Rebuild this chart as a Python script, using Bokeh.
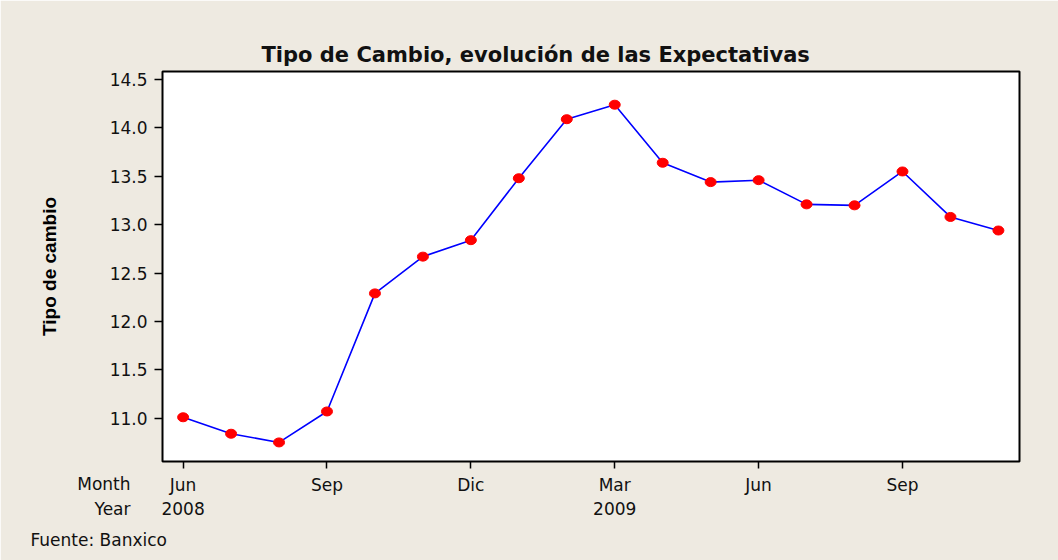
from bokeh.plotting import figure
from bokeh.models import FixedTicker, LinearAxis, Label, Range1d, PrintfTickFormatter, Title
from bokeh.embed import file_html
from bokeh.resources import INLINE

# ---- data ----
months = ["Jun", "Jul", "Ago", "Sep", "Oct", "Nov", "Dic", "Ene", "Feb",
          "Mar", "Abr", "May", "Jun", "Jul", "Ago", "Sep", "Oct", "Nov"]
years = [2008] * 7 + [2009] * 11
values = [11.01, 10.84, 10.75, 11.07, 12.29, 12.67, 12.84, 13.48, 14.09,
          14.24, 13.64, 13.44, 13.46, 13.21, 13.20, 13.55, 13.08, 12.94]
y_ticks = [11.0, 11.5, 12.0, 12.5, 13.0, 13.5, 14.0, 14.5]
year_tick_idx = [0, 9]
title_text = "Tipo de Cambio, evolución de las Expectativas"
y_label = "Tipo de cambio"
source_text = "Fuente: Banxico"

x = list(range(len(values)))
tick_idx = [i for i in x if i % 3 == 0]
month_labels = {i: months[i] for i in tick_idx}
year_labels = {i: str(years[i]) for i in year_tick_idx}

BG = "#EEEAE1"
FONT = "DejaVu Sans"
W, H = 1058, 560

p = figure(width=W, height=H, output_backend="svg", toolbar_location=None, title=None,
           x_range=Range1d(-0.43, 17.44), y_range=Range1d(10.553, 14.583),
           min_border_left=162, min_border_right=39, min_border_top=71,
           min_border_bottom=99, x_axis_location=None, y_axis_location="left")

p.background_fill_color = "white"
p.border_fill_color = BG
p.outline_line_color = "black"
p.outline_line_width = 2
p.grid.visible = False

# title (closest to the frame in the top panel)
p.add_layout(Title(text=title_text, text_font=FONT, text_font_size="21px",
                   text_font_style="bold", align="left", offset=99, standoff=9,
                   text_color="#111111"), "above")

# y axis
ya = p.yaxis[0]
ya.ticker = FixedTicker(ticks=y_ticks)
ya.formatter = PrintfTickFormatter(format="%.1f")
ya.axis_line_color = None
ya.major_tick_out = 8
ya.major_tick_in = 0
ya.major_tick_line_width = 1.5
ya.minor_tick_line_color = None
ya.major_label_text_font = FONT
ya.major_label_text_font_size = "17px"
ya.major_label_text_color = "#111111"
ya.major_label_standoff = 7
ya.axis_label = y_label
ya.axis_label_text_font = "Liberation Sans"
ya.axis_label_text_font_style = "bold"
ya.axis_label_text_font_size = "19px"
ya.axis_label_text_color = "black"
ya.axis_label_standoff = 47

# x axis: months
xa = LinearAxis(ticker=FixedTicker(ticks=tick_idx), major_label_overrides=month_labels)
xa.axis_line_color = None
xa.major_tick_out = 7
xa.major_tick_in = 0
xa.major_tick_line_width = 1.5
xa.minor_tick_line_color = None
xa.major_label_text_font = FONT
xa.major_label_text_font_size = "17px"
xa.major_label_text_color = "#111111"
xa.major_label_standoff = 6
p.add_layout(xa, "below")

# x axis: years
xb = LinearAxis(ticker=FixedTicker(ticks=year_tick_idx), major_label_overrides=year_labels)
xb.axis_line_color = None
xb.major_tick_line_color = None
xb.major_tick_out = 0
xb.major_tick_in = 0
xb.minor_tick_line_color = None
xb.major_label_text_font = FONT
xb.major_label_text_font_size = "17px"
xb.major_label_text_color = "#111111"
xb.major_label_standoff = 4
p.add_layout(xb, "below")

# Month / Year row labels (side-panel labels, offsets from their own slot)
p.add_layout(Label(x=-32, y=54, x_units="screen", y_units="screen", text="Month",
                   text_align="right", text_baseline="middle", text_font=FONT,
                   text_font_size="17px", text_color="#111111"), "below")
p.add_layout(Label(x=-32, y=49, x_units="screen", y_units="screen", text="Year",
                   text_align="right", text_baseline="middle", text_font=FONT,
                   text_font_size="17px", text_color="#111111"), "below")
# source note (top-panel slot, placed down at the bottom of the canvas)
p.add_layout(Label(x=-132, y=-503, x_units="screen", y_units="screen", text=source_text,
                   text_align="left", text_baseline="middle", text_font=FONT,
                   text_font_size="17px", text_color="#111111"), "above")

# data
p.line(x, values, line_color="#0000FF", line_width=1.6)
p.ellipse(x, values, width=11, height=9, width_units="screen", height_units="screen",
          fill_color="#FF0000", line_color="#FF0000")

open("out.html", "w").write(file_html(p, INLINE))
